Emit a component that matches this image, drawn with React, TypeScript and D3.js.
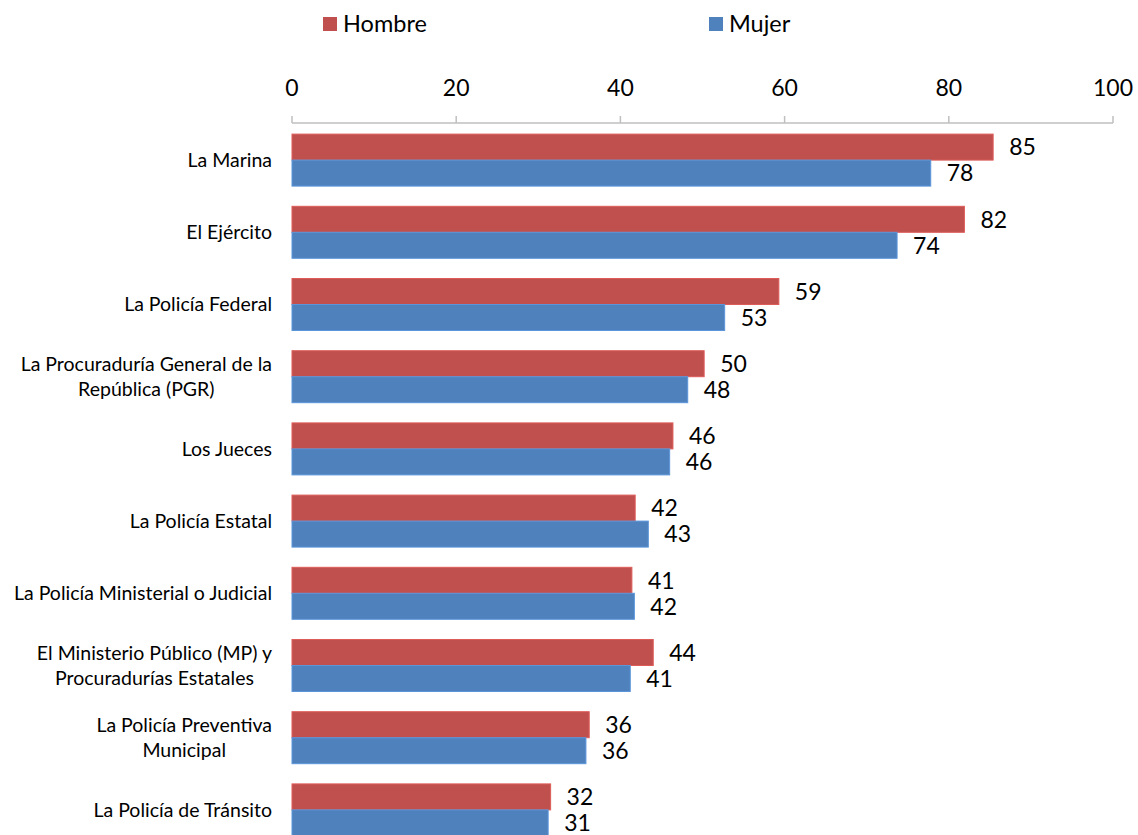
import React, { useEffect, useRef } from 'react';
import * as d3 from 'd3';

const categories = [
  'La Marina',
  'El Ejército',
  'La Policía Federal',
  'La Procuraduría General de la\nRepública (PGR)',
  'Los Jueces',
  'La Policía Estatal',
  'La Policía Ministerial o Judicial',
  'El Ministerio Público (MP) y\nProcuradurías Estatales',
  'La Policía Preventiva\nMunicipal',
  'La Policía de Tránsito',
];
const hombre = [85.4, 81.9, 59.3, 50.2, 46.4, 41.8, 41.4, 44.0, 36.2, 31.5];
const mujer = [77.8, 73.7, 52.7, 48.2, 46.0, 43.4, 41.7, 41.2, 35.8, 31.2];
const seriesNames = ['Hombre', 'Mujer'];
const xTicks = [0, 20, 40, 60, 80, 100];

const colors = ['#C0504D', '#4F81BD'];
const FONT = 'Lato, "Open Sans", sans-serif';

const App = () => {
  const ref = useRef<SVGSVGElement>(null);

  useEffect(() => {
    document.body.style.margin = '0';
    const width = 1138;
    const margin = { top: 124, left: 292, right: 25 };

    const svg = d3.select(ref.current);
    svg.selectAll('*').remove();

    const x = d3.scaleLinear().domain([0, 100]).range([margin.left, width - margin.right]);
    const y = d3.scaleBand<number>()
      .domain(categories.map((_, i) => i))
      .range([margin.top, margin.top + 72.2 * categories.length])
      .paddingInner(0.28)
      .paddingOuter(0.14);
    const sub = d3.scaleBand<number>().domain([0, 1]).range([0, y.bandwidth()]);

    // axis on top
    const axis = svg.append('g').attr('transform', `translate(0,${margin.top - 1})`);
    axis.append('line')
      .attr('x1', x(0)).attr('x2', x(100))
      .attr('stroke', '#bfbfbf').attr('stroke-width', 1.5);
    xTicks.forEach(t => {
      axis.append('line')
        .attr('x1', x(t)).attr('x2', x(t)).attr('y1', 0).attr('y2', -7)
        .attr('stroke', '#bfbfbf').attr('stroke-width', 1.5);
      axis.append('text')
        .attr('x', x(t)).attr('y', -27)
        .attr('text-anchor', 'middle')
        .style('font-family', FONT).style('font-size', '23px').attr('fill', '#000')
        .text(t);
    });

    // bars
    const series = [hombre, mujer];
    categories.forEach((c, i) => {
      series.forEach((vals, s) => {
        const y0 = (y(i) as number) + (sub(s) as number);
        svg.append('rect')
          .attr('x', x(0)).attr('y', y0)
          .attr('width', x(vals[i]) - x(0)).attr('height', sub.bandwidth())
          .attr('fill', colors[s])
          .attr('stroke', d3.color(colors[s])!.brighter(0.4).toString())
          .attr('stroke-width', 1);
        svg.append('text')
          .attr('x', x(vals[i]) + 16).attr('y', y0 + sub.bandwidth() / 2)
          .attr('dy', '0.36em')
          .style('font-family', FONT).style('font-size', '23px').attr('fill', '#000')
          .text(d3.format('.0f')(vals[i]));
      });

      // category label
      const lines = c.split('\n');
      const g = svg.append('g');
      const lh = 25;
      const cy = (y(i) as number) + y.bandwidth() / 2;
      const texts = lines.map((l, k) =>
        g.append('text')
          .attr('y', cy + (k - (lines.length - 1) / 2) * lh)
          .attr('dy', '0.35em')
          .attr('text-anchor', 'middle')
          .style('font-family', FONT).style('font-size', '19.5px').attr('fill', '#000')
          .text(l)
      );
      const maxW = d3.max(texts, t => (t.node() as SVGTextElement).getComputedTextLength()) || 0;
      texts.forEach(t => t.attr('x', 272 - maxW / 2));
    });

    // legend
    const legendX = [323, 709];
    seriesNames.forEach((name, s) => {
      svg.append('rect')
        .attr('x', legendX[s]).attr('y', 17).attr('width', 14).attr('height', 14)
        .attr('fill', colors[s]);
      svg.append('text')
        .attr('x', legendX[s] + 20).attr('y', 24).attr('dy', '0.36em')
        .style('font-family', FONT).style('font-size', '23.5px').attr('fill', '#000')
        .text(name);
    });
  }, []);

  return <svg ref={ref} width={1138} height={835} style={{ display: 'block', background: '#fff' }} />;
};

export default App;
